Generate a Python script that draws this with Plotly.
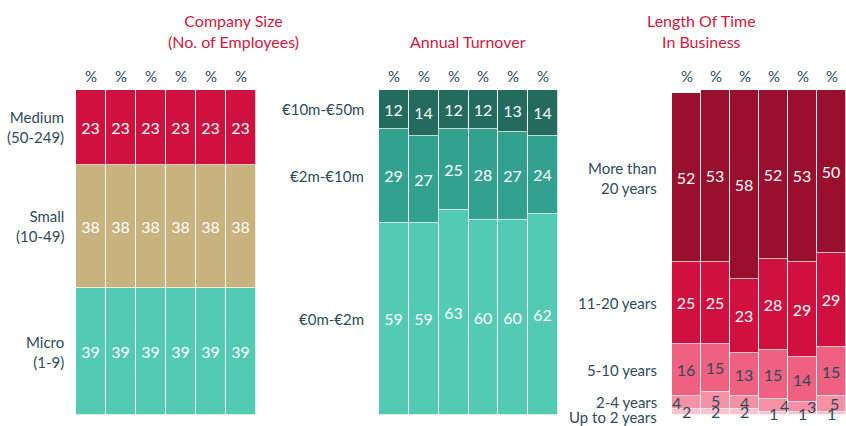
import plotly.graph_objects as go

# ---- data ----
columns = ["W1", "W2", "W3", "W4", "W5", "W6"]

size_labels = ["Micro<br>(1-9)", "Small<br>(10-49)", "Medium<br>(50-249)"]
size_micro = [39, 39, 39, 39, 39, 39]
size_small = [38, 38, 38, 38, 38, 38]
size_medium = [23, 23, 23, 23, 23, 23]

turn_labels = ["€0m-€2m", "€2m-€10m", "€10m-€50m"]
turn_0_2 = [59, 59, 63, 60, 60, 62]
turn_2_10 = [29, 27, 25, 28, 27, 24]
turn_10_50 = [12, 14, 12, 12, 13, 14]

time_labels = ["Up to 2 years", "2-4 years", "5-10 years", "11-20 years", "More than<br>20 years"]
time_upto2 = [2, 2, 2, 1, 1, 1]
time_2_4 = [4, 5, 4, 4, 3, 5]
time_5_10 = [16, 15, 13, 15, 14, 15]
time_11_20 = [25, 25, 23, 28, 29, 29]
time_20p = [52, 53, 58, 52, 53, 50]

titles = ["Company Size<br>(No. of Employees)", "Annual Turnover", "Length Of Time<br>In Business"]

# ---- styles ----
FONT = "Lato"
SLATE = "#2E4B5C"
TITLE_RED = "#D3173F"
WHITE = "#FFFFFF"

panels = [
    dict(ax="x", ay="y", series=[size_micro, size_small, size_medium], labels=size_labels,
         colors=["#52CAB4", "#C8B27E", "#D01140"], txt=[WHITE, WHITE, WHITE],
         inside=[True, True, True], lab_shift=-10),
    dict(ax="x2", ay="y2", series=[turn_0_2, turn_2_10, turn_10_50], labels=turn_labels,
         colors=["#52CAB4", "#33A18F", "#226B5E"], txt=[WHITE, WHITE, WHITE],
         inside=[True, True, True], lab_shift=-13),
    dict(ax="x3", ay="y3", series=[time_upto2, time_2_4, time_5_10, time_11_20, time_20p], labels=time_labels,
         colors=["#F9C3CE", "#F590A5", "#F06080", "#D0103F", "#9A0E2E"],
         txt=[SLATE, SLATE, SLATE, WHITE, WHITE],
         inside=[False, False, True, True, True], lab_shift=-11),
]
# nudges for tiny labels (style only)
nudge_2_4 = [-10, 0, 0, 11, 9, 3]
label_yshift = {("x3", 0): -5}

fig = go.Figure()
annotations = []

for p in panels:
    cum = [0] * len(columns)
    for si, (vals, col, tcol, ins) in enumerate(zip(p["series"], p["colors"], p["txt"], p["inside"])):
        fig.add_trace(go.Bar(
            x=columns, y=vals, xaxis=p["ax"], yaxis=p["ay"],
            marker=dict(color=col, line=dict(color="rgba(255,255,255,0.75)", width=1)),
            text=[str(v) for v in vals] if ins else None,
            textposition="inside" if ins else "none",
            insidetextanchor="middle",
            textfont=dict(family=FONT, size=16, color=tcol),
            showlegend=False, hoverinfo="skip",
        ))
        if not ins:
            for ci, v in enumerate(vals):
                xs = nudge_2_4[ci] if si == 1 else 0
                annotations.append(dict(
                    x=columns[ci], y=cum[ci] + v / 2, xref=p["ax"], yref=p["ay"],
                    text=str(v), showarrow=False, xshift=xs, yshift=0,
                    font=dict(family=FONT, size=16, color=tcol)))
        # category label at first column's segment middle
        annotations.append(dict(
            x=0, xref=p["ax"] + " domain", y=cum[0] + vals[0] / 2, yref=p["ay"],
            text=p["labels"][si], showarrow=False, xanchor="right", align="right",
            xshift=p["lab_shift"], yshift=label_yshift.get((p["ax"], si), 0),
            font=dict(family=FONT, size=15, color=SLATE)))
        cum = [c + v for c, v in zip(cum, vals)]
    # % headers
    for c in columns:
        annotations.append(dict(
            x=c, xref=p["ax"], y=1, yref=p["ay"] + " domain", yanchor="bottom",
            text="%", showarrow=False, yshift=3,
            font=dict(family=FONT, size=15, color=SLATE)))

# titles
title_x = [165.5 / 846, 468 / 846, 758 / 846]
for t, tx in zip(titles, title_x):
    annotations.append(dict(
        x=tx, y=1 - 53 / 426, xref="paper", yref="paper", yanchor="bottom",
        text=t, showarrow=False, align="center",
        font=dict(family=FONT, size=16, color=TITLE_RED)))

ydom = [1 - 415 / 426, 1 - 90 / 426]
axis_common = dict(visible=False, showgrid=False, zeroline=False)
fig.update_layout(
    width=846, height=426,
    margin=dict(l=0, r=0, t=0, b=0),
    paper_bgcolor="white", plot_bgcolor="white",
    barmode="stack", bargap=0.0,
    font=dict(family=FONT, color=SLATE),
    xaxis=dict(domain=[76 / 846, 256 / 846], **axis_common),
    xaxis2=dict(domain=[379 / 846, 558 / 846], **axis_common),
    xaxis3=dict(domain=[670 / 846, 1.0], **axis_common),
    yaxis=dict(domain=ydom, range=[0, 100], anchor="x", **axis_common),
    yaxis2=dict(domain=ydom, range=[0, 100], anchor="x2", **axis_common),
    yaxis3=dict(domain=ydom, range=[0, 100], anchor="x3", **axis_common),
    annotations=annotations,
)

fig.write_html("out.html", config={"displayModeBar": False},
               post_script="document.body.style.margin='0';document.body.style.overflow='hidden';")
